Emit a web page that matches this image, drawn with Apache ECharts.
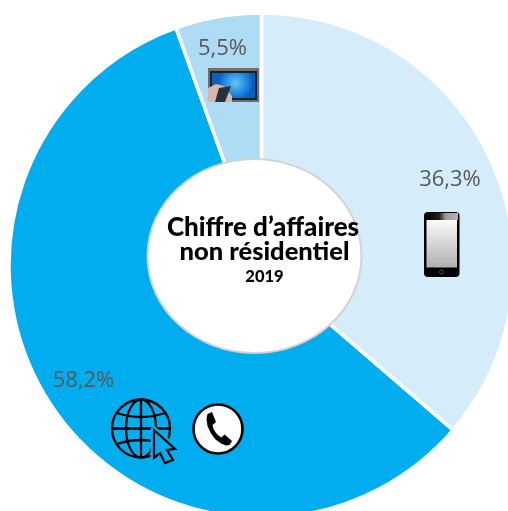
<!DOCTYPE html>
<html><head><meta charset="utf-8">
<style>html,body{margin:0;padding:0;background:#fff;overflow:hidden}#c{width:508px;height:511px}</style>
<script src="https://cdn.jsdelivr.net/npm/echarts@6/dist/echarts.min.js"></script>
</head><body><div id="c"></div>
<script>
const categories = ['Mobile', 'Internet et téléphonie fixe', 'Télévision'];
const shares = [36.3, 58.2, 5.5];
const sliceColours = ['#d5edfa', '#00aeef', '#aedcf5'];
const labelCentres = [[450, 179.5], [83.5, 380.5], [222.5, 48.5]];
const centreTitle = ['Chiffre d’affaires', 'non résidentiel'];
const centreYear = '2019';

const chart = echarts.init(document.getElementById('c'), null, {renderer: 'canvas'});
const cx = 261.5, cy = 265.5;
const ln = {fill: 'none', stroke: '#000', lineWidth: 2.3};
const cursorPts = [[154, 430], [175, 449], [167, 450], [173, 460], [165, 463], [160, 453], [154, 458]];
const handset = [[207.5, 414], [212, 412], [216, 422], [212.5, 425], [213.5, 429], [216, 433], [218.5, 435.5], [221.5, 437.5], [224.5, 434.5], [232, 441], [229.5, 445], [226, 445.5], [221, 443.5], [215.5, 439.5], [211, 433.5], [207.5, 426], [206.5, 419]];
chart.setOption({
  animation: false,
  backgroundColor: '#fff',
  series: [{
    type: 'pie', silent: true, center: [cx, cy], radius: [0, 252.5], startAngle: 90, clockwise: true,
    itemStyle: {borderColor: '#fff', borderWidth: 3.5},
    label: {
      show: true, position: 'inside', fontFamily: 'Open Sans', fontSize: 22, color: '#595959',
      formatter: p => p.value.toFixed(1).replace('.', ',') + '%'
    },
    labelLine: {show: false},
    labelLayout: p => ({x: labelCentres[p.dataIndex][0], y: labelCentres[p.dataIndex][1], align: 'center', verticalAlign: 'middle'}),
    data: categories.map((n, i) => ({name: n, value: shares[i], itemStyle: {color: sliceColours[i]}}))
  }],
  graphic: [
    {type: 'ellipse', shape: {cx: 254.5, cy: 256, rx: 107, ry: 97}, style: {fill: '#fff', stroke: '#d3d3d3', lineWidth: 2}, z: 10},
    {type: 'text', x: 263, y: 228, z: 11, style: {text: centreTitle[0], fill: '#000', font: '900 26px Lato', textAlign: 'center', textVerticalAlign: 'middle'}},
    {type: 'text', x: 264.5, y: 252, z: 11, style: {text: centreTitle[1], fill: '#000', font: '900 25.5px Lato', textAlign: 'center', textVerticalAlign: 'middle'}},
    {type: 'text', x: 264.5, y: 277, z: 11, style: {text: centreYear, fill: '#000', font: '900 16.5px Lato', textAlign: 'center', textVerticalAlign: 'middle'}},

    // TV icon
    {type: 'rect', z: 12, shape: {x: 208, y: 68, width: 51, height: 34}, style: {fill: '#6f6e60'}},
    {type: 'rect', z: 12, shape: {x: 210, y: 71, width: 47, height: 29}, style: {fill: '#10243a'}},
    {type: 'rect', z: 12, shape: {x: 212, y: 73, width: 43, height: 25}, style: {fill: {type: 'radial', x: 0.55, y: 0.4, r: 0.7, colorStops: [{offset: 0, color: '#6fc0f2'}, {offset: 0.6, color: '#1f8fe6'}, {offset: 1, color: '#0c5fb8'}]}}},
    {type: 'polygon', z: 13, shape: {points: [[208, 88], [216, 84], [224, 86], [232, 96], [232, 102], [208, 102]]}, style: {fill: '#d9b7a5'}},
    {type: 'polygon', z: 14, shape: {points: [[219, 88], [231, 86], [225, 102], [215, 102]]}, style: {fill: '#27323e'}},

    // Smartphone icon
    {type: 'rect', z: 12, shape: {x: 424, y: 212, width: 35.5, height: 65, r: 4}, style: {fill: '#000'}},
    {type: 'rect', z: 13, shape: {x: 427, y: 213, width: 31, height: 7}, style: {fill: {type: 'linear', x: 0, y: 0, x2: 1, y2: 0, colorStops: [{offset: 0, color: '#000'}, {offset: 0.4, color: '#222'}, {offset: 0.6, color: '#9a9a9a'}, {offset: 1, color: '#b5b5b5'}]}}},
    {type: 'rect', z: 13, shape: {x: 426.5, y: 220, width: 30.5, height: 47.5}, style: {fill: {type: 'linear', x: 0, y: 0, x2: 0, y2: 1, colorStops: [{offset: 0, color: '#fafafa'}, {offset: 1, color: '#b0b0b0'}]}}},
    {type: 'circle', z: 13, shape: {cx: 441.5, cy: 272, r: 2}, style: {fill: 'none', stroke: '#555', lineWidth: 0.8}},

    // Globe icon
    {type: 'circle', z: 12, shape: {cx: 141, cy: 428.5, r: 29}, style: ln},
    {type: 'ellipse', z: 12, shape: {cx: 141, cy: 428.5, rx: 15, ry: 29}, style: ln},
    {type: 'line', z: 12, shape: {x1: 141, y1: 399.5, x2: 141, y2: 457.5}, style: ln},
    {type: 'line', z: 12, shape: {x1: 112, y1: 428.5, x2: 170, y2: 428.5}, style: ln},
    {type: 'bezierCurve', z: 12, shape: {x1: 117, y1: 413, cpx1: 141, cpy1: 421, x2: 165, y2: 413}, style: ln},
    {type: 'bezierCurve', z: 12, shape: {x1: 117, y1: 444, cpx1: 141, cpy1: 436, x2: 165, y2: 444}, style: ln},
    // Cursor
    {type: 'polygon', z: 13, shape: {points: cursorPts}, style: {fill: '#00aeef', stroke: '#00aeef', lineWidth: 7, lineJoin: 'round'}},
    {type: 'polygon', z: 14, shape: {points: cursorPts}, style: {fill: '#00aeef', stroke: '#000', lineWidth: 2.2, lineJoin: 'miter'}},

    // Telephone icon
    {type: 'circle', z: 12, shape: {cx: 218, cy: 429, r: 24.5}, style: {fill: '#fff', stroke: '#000', lineWidth: 2.6}},
    {type: 'polygon', z: 13, shape: {points: handset}, style: {fill: '#000'}}
  ]
});
</script></body></html>
